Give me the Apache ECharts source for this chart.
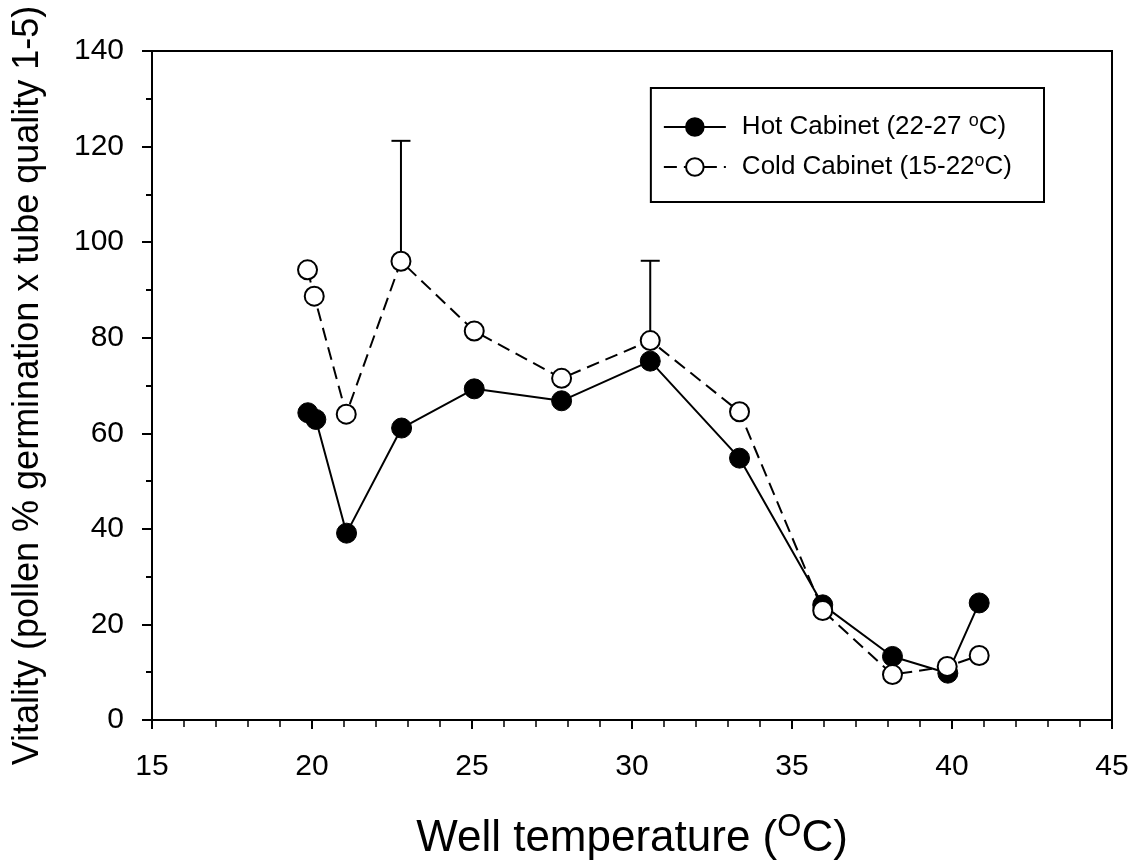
<!DOCTYPE html>
<html>
<head>
<meta charset="utf-8">
<script src="https://cdn.jsdelivr.net/npm/echarts@6/dist/echarts.min.js"></script>
<style>
  html, body { margin: 0; padding: 0; background: #fff; }
  #chart { width: 1132px; height: 865px; }
</style>
</head>
<body>
<div id="chart"></div>
<script>
// well temperature (x) and vitality (y)
var tempHot = [19.87, 20.12, 21.08, 22.8, 25.07, 27.8, 30.57, 33.36, 35.96, 38.14, 39.87, 40.85]
var vitHot = [64.3, 62.9, 39.1, 61.1, 69.3, 66.8, 75.1, 54.8, 24.1, 13.3, 9.8, 24.5]
var tempCold = [19.86, 20.07, 21.07, 22.78, 25.07, 27.8, 30.57, 33.36, 35.96, 38.14, 39.85, 40.85]
var vitCold = [94.2, 88.7, 64.0, 96.0, 81.4, 71.5, 79.4, 64.5, 22.9, 9.5, 11.2, 13.5]
// upper error bars (cold cabinet only)
var errTemp = [22.78, 30.57]
var errMean = [96.0, 79.4]
var errTop = [121.2, 96.1]

var hotName = 'Hot Cabinet (22-27 °C)'
var coldName = 'Cold Cabinet (15-22°C)'

function pairs (xs, ys) {
  return xs.map(function (x, i) { return [x, ys[i]] })
}

var FONT = 'Arial, "Liberation Sans", sans-serif'

var myChart = echarts.init(document.getElementById('chart'))
var option = {
  backgroundColor: '#fff',
  animation: false,
  textStyle: { fontFamily: FONT, color: '#000' },
  grid: {
    left: 152,
    right: 20,
    top: 51,
    bottom: 145,
    outerBoundsMode: 'none',
    containLabel: false,
    show: true,
    borderColor: '#000',
    borderWidth: 2
  },
  legend: {
    data: [hotName, coldName],
    orient: 'vertical',
    right: 88,
    top: 88,
    borderColor: '#000',
    borderWidth: 2,
    padding: [24, 32, 20, 12],
    itemGap: 10,
    itemWidth: 62,
    itemHeight: 22,
    formatter: function (name) {
      return name === hotName ? 'Hot Cabinet (22-27 {sup|o}C)' : 'Cold Cabinet (15-22{sup|o}C)'
    },
    textStyle: {
      fontFamily: FONT,
      fontSize: 26,
      lineHeight: 30,
      color: '#000',
      padding: [0, 0, 0, 11],
      rich: {
        sup: { fontFamily: FONT, fontSize: 18, lineHeight: 30, color: '#000', padding: [0, 0, 12, 0] }
      }
    }
  },
  xAxis: {
    type: 'value',
    min: 15,
    max: 45,
    interval: 5,
    name: 'Well temperature ({sup|O}C)',
    nameLocation: 'middle',
    nameGap: 92,
    nameTextStyle: {
      fontFamily: FONT,
      fontSize: 44,
      color: '#000',
      rich: {
        sup: { fontFamily: FONT, fontSize: 31, color: '#000', padding: [0, 0, 22, 0] }
      }
    },
    axisLine: { lineStyle: { color: '#000', width: 2 } },
    axisTick: { show: true, length: 9, lineStyle: { color: '#000', width: 2 } },
    minorTick: { show: true, splitNumber: 5, length: 7, lineStyle: { color: '#000', width: 1.5 } },
    axisLabel: { fontFamily: FONT, fontSize: 30, color: '#000', margin: 32 },
    splitLine: { show: false }
  },
  yAxis: {
    type: 'value',
    min: 0,
    max: 140,
    interval: 20,
    name: 'Vitality (pollen % germination x tube quality 1-5)',
    nameLocation: 'middle',
    nameGap: 106,
    nameTextStyle: { fontFamily: FONT, fontSize: 36, color: '#000' },
    axisLine: { lineStyle: { color: '#000', width: 2 } },
    axisTick: { show: true, length: 10, lineStyle: { color: '#000', width: 2 } },
    minorTick: { show: true, splitNumber: 2, length: 6, lineStyle: { color: '#000', width: 2 } },
    axisLabel: { fontFamily: FONT, fontSize: 30, color: '#000', margin: 28 },
    splitLine: { show: false }
  },
  series: [
    {
      name: 'err',
      type: 'custom',
      z: 1,
      data: errTemp.map(function (x, i) { return [x, errMean[i], errTop[i]] }),
      encode: { x: 0, y: [1, 2] },
      renderItem: function (params, api) {
        var p0 = api.coord([api.value(0), api.value(1)])
        var p1 = api.coord([api.value(0), api.value(2)])
        var st = { stroke: '#000', lineWidth: 2 }
        return {
          type: 'group',
          children: [
            { type: 'line', shape: { x1: p0[0], y1: p0[1], x2: p1[0], y2: p1[1] }, style: st },
            { type: 'line', shape: { x1: p1[0] - 9.5, y1: p1[1], x2: p1[0] + 9.5, y2: p1[1] }, style: st }
          ]
        }
      }
    },
    {
      name: hotName,
      type: 'line',
      z: 2,
      data: pairs(tempHot, vitHot),
      symbol: 'circle',
      symbolSize: 20,
      lineStyle: { color: '#000', width: 2 },
      itemStyle: { color: '#000', borderColor: '#000', borderWidth: 1 }
    },
    {
      name: coldName,
      type: 'line',
      z: 3,
      data: pairs(tempCold, vitCold),
      symbol: 'circle',
      symbolSize: 19,
      lineStyle: { color: '#000', width: 2, type: [13, 7] },
      itemStyle: { color: '#fff', borderColor: '#000', borderWidth: 2 }
    }
  ]
}
myChart.setOption(option)
</script>
</body>
</html>
